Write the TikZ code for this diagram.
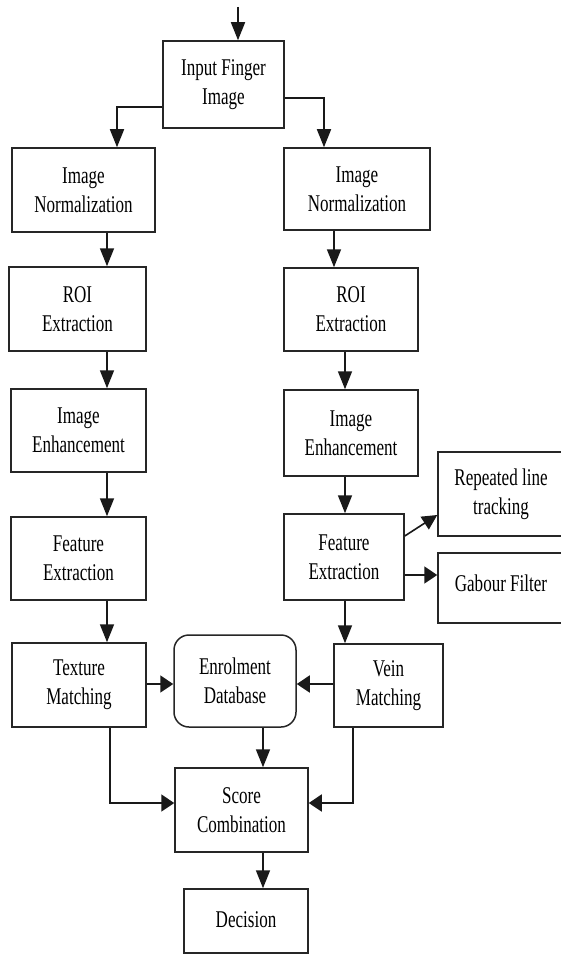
\documentclass[tikz,border=0pt]{standalone}
\usepackage{fontspec}
\setmainfont{Liberation Serif}[FakeStretch=0.71]
\usetikzlibrary{arrows.meta}
\begin{document}
\begin{tikzpicture}[x=1pt,y=-1pt,
  box/.style={draw=black!85, line width=1.5pt, inner sep=0pt, align=center,
    font=\fontsize{24}{29}\selectfont},
  va/.style={line width=1.6pt, black!90, -{Triangle[length=18pt,width=14pt]}},
  ha/.style={line width=1.6pt, black!90, -{Triangle[length=13pt,width=17pt]}},
  da/.style={line width=1.6pt, black!90, -{Triangle[length=15pt,width=15pt]}}]
\clip (0,0) rectangle (561,955);
\fill[white] (0,0) rectangle (561,955);
% nodes
\node[box, minimum width=121pt, minimum height=87pt] (in) at (223.5,84.5) {Input Finger\\Image};
\node[box, minimum width=143pt, minimum height=84pt] (nl) at (83.5,190) {Image\\Normalization};
\node[box, minimum width=146pt, minimum height=82pt] (nr) at (357,189) {Image\\Normalization};
\node[box, minimum width=137pt, minimum height=84pt] (rl) at (77.5,309) {ROI\\Extraction};
\node[box, minimum width=134pt, minimum height=83pt] (rr) at (351,309.5) {ROI\\Extraction};
\node[box, minimum width=135pt, minimum height=83pt] (el) at (78.5,430.5) {Image\\Enhancement};
\node[box, minimum width=134pt, minimum height=86pt] (er) at (351,433) {Image\\Enhancement};
\node[box, minimum width=135pt, minimum height=83pt] (fl) at (78.5,558.5) {Feature\\Extraction};
\node[box, minimum width=120pt, minimum height=86pt] (fr) at (344,557) {Feature\\Extraction};
\node[box, minimum width=126pt, minimum height=84pt] (rep) at (501,494) {Repeated line\\tracking};
\node[box, minimum width=126pt, minimum height=70pt] (gab) at (501,588) {\raisebox{10pt}{Gabour Filter}};
\node[box, minimum width=134pt, minimum height=84pt] (tm) at (79,685) {Texture\\Matching};
\node[box, minimum width=122pt, minimum height=92pt, rounded corners=15pt] (db) at (235,681) {Enrolment\\Database};
\node[box, minimum width=109pt, minimum height=83pt] (vm) at (388.5,685.5) {Vein\\Matching};
\node[box, minimum width=133pt, minimum height=84pt] (sc) at (241.5,810) {Score\\Combination};
\node[box, minimum width=124pt, minimum height=64pt] (de) at (246,921) {\raisebox{3pt}{Decision}};
% helper coordinates
\coordinate (top) at (238,7);
\coordinate (cb1) at (117,107);
\coordinate (cb2) at (324,98);
\coordinate (cl) at (107,0);
\coordinate (cr1) at (334,0);
\coordinate (cr2) at (345,0);
\coordinate (gy) at (0,575);
\coordinate (hy) at (0,684);
\coordinate (cx) at (263,0);
\coordinate (tl) at (110,803);
\coordinate (tr) at (353,803);
% connectors
\draw[va] (top) -- (in.north -| top);
\draw[va] (in.west |- cb1) -| (nl.north -| cb1);
\draw[va] (in.east |- cb2) -| (nr.north -| cb2);
\draw[va] (nl.south -| cl) -- (rl.north -| cl);
\draw[va] (rl.south -| cl) -- (el.north -| cl);
\draw[va] (el.south -| cl) -- (fl.north -| cl);
\draw[va] (fl.south -| cl) -- (tm.north -| cl);
\draw[va] (nr.south -| cr1) -- (rr.north -| cr1);
\draw[va] (rr.south -| cr2) -- (er.north -| cr2);
\draw[va] (er.south -| cr2) -- (fr.north -| cr2);
\draw[va] (fr.south -| cr2) -- (vm.north -| cr2);
\draw[da] ([yshift=21pt]fr.east) -- ([yshift=-21pt]rep.west);
\draw[ha] (fr.east |- gy) -- (gab.west |- gy);
\draw[ha] (tm.east |- hy) -- (db.west |- hy);
\draw[ha] (vm.west |- hy) -- (db.east |- hy);
\draw[va] (db.south -| cx) -- (sc.north -| cx);
\draw[va] (sc.south -| cx) -- (de.north -| cx);
\draw[ha] (tm.south -| tl) |- (sc.west |- tl);
\draw[ha] (vm.south -| tr) |- (sc.east |- tr);
\end{tikzpicture}
\end{document}
